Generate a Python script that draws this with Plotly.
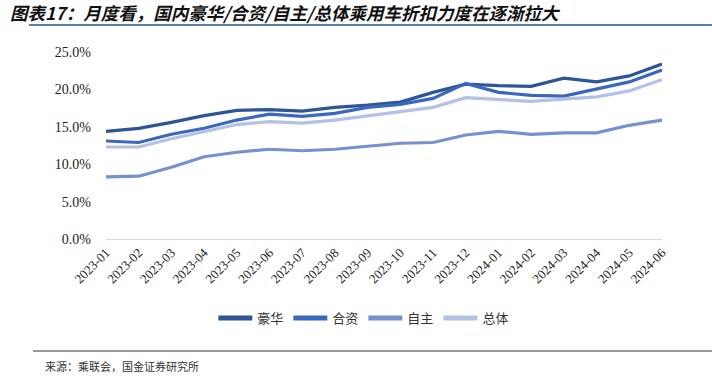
import plotly.graph_objects as go

months = ["2023-01","2023-02","2023-03","2023-04","2023-05","2023-06","2023-07","2023-08","2023-09",
          "2023-10","2023-11","2023-12","2024-01","2024-02","2024-03","2024-04","2024-05","2024-06"]
luxury = [14.4,14.8,15.6,16.5,17.2,17.3,17.1,17.6,17.9,18.3,19.6,20.7,20.5,20.4,21.5,21.0,21.8,23.4]
jv     = [13.1,12.9,14.0,14.8,15.9,16.7,16.4,16.8,17.6,18.0,18.8,20.8,19.6,19.2,19.1,20.1,21.0,22.6]
domestic = [8.3,8.4,9.6,11.0,11.6,12.0,11.8,12.0,12.4,12.8,12.9,13.9,14.4,14.0,14.2,14.2,15.2,15.9]
overall  = [12.3,12.3,13.4,14.4,15.3,15.7,15.5,15.9,16.5,17.0,17.6,18.9,18.6,18.4,18.7,19.0,19.8,21.3]

names = ["豪华", "合资", "自主", "总体"]
colors = ["#2E5597", "#3A68BE", "#7690D0", "#B4C0E4"]
series = [luxury, jv, domestic, overall]

CJK = "Noto Sans CJK SC"
SERIF = "Times New Roman, Liberation Serif, DejaVu Serif, serif"

fig = go.Figure()
for n, c, s in zip(names, colors, series):
    fig.add_trace(go.Scatter(x=months, y=[v / 100 for v in s], name=n, mode="lines",
                             line=dict(color=c, width=3.2)))

L, R, T, B = 106, 662, 52, 239
W, H = 712, 376
pw, ph = R - L, B - T

def px(x):
    return (x - L) / pw

def py(y):
    return (B - y) / ph

fig.update_layout(
    width=W, height=H,
    margin=dict(l=L, r=W - R, t=T, b=H - B, pad=0, autoexpand=False),
    plot_bgcolor="white", paper_bgcolor="white",
    showlegend=True,
    legend=dict(orientation="h", xref="container", yref="container",
                x=0.511, xanchor="center", y=1 - 318 / H, yanchor="middle",
                font=dict(family=CJK, size=13, color="#333333"),
                itemwidth=34, tracegroupgap=0, itemsizing="constant"),
    xaxis=dict(type="category", showgrid=False, showline=True, linecolor="#D9D9D9", linewidth=1,
               ticks="", tickangle=-45, automargin=False,
               tickfont=dict(family=SERIF, size=13, color="#222222")),
    yaxis=dict(range=[0, 0.25], dtick=0.05, tickformat=".1%", showgrid=False, zeroline=False,
               showline=False, ticks="", ticklabelstandoff=14, automargin=False,
               tickfont=dict(family=SERIF, size=14, color="#222222")),
    shapes=[
        dict(type="line", xref="paper", yref="paper", x0=px(29), x1=px(712), y0=py(25), y1=py(25),
             line=dict(color="#1F5A8C", width=1.5)),
        dict(type="line", xref="paper", yref="paper", x0=px(33), x1=px(712), y0=py(351), y1=py(351),
             line=dict(color="#333333", width=1)),
    ],
    annotations=[
        dict(text="<b><i>图表17：月度看，国内豪华/合资/自主/总体乘用车折扣力度在逐渐拉大</i></b>",
             xref="paper", yref="paper", x=px(8), y=py(12), xanchor="left", yanchor="middle",
             showarrow=False, font=dict(family=CJK, size=17.5, color="#111111")),
        dict(text="来源：乘联会，国金证券研究所", xref="paper", yref="paper", x=px(43), y=py(366),
             xanchor="left", yanchor="middle", showarrow=False,
             font=dict(family=CJK, size=11, color="#333333")),
    ],
)

fig.write_html("out.html", config={"displayModeBar": False},
               post_script="document.body.style.margin='0';document.body.style.padding='0';")
